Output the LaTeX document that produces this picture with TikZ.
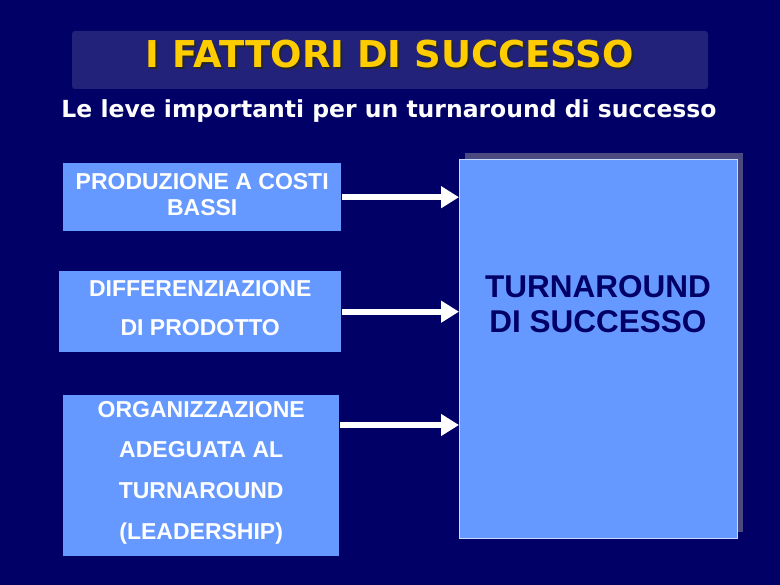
\documentclass[tikz,border=0pt]{standalone}
\usepackage{fontspec}
\setmainfont{Liberation Sans}
\newfontfamily\verdanafont{DejaVu Sans}
\usetikzlibrary{arrows.meta,calc}
\definecolor{bgnavy}{RGB}{0,0,102}
\definecolor{titlebox}{RGB}{34,34,122}
\definecolor{titleyellow}{RGB}{255,204,0}
\definecolor{boxblue}{RGB}{102,153,255}
\definecolor{shadowgray}{RGB}{74,74,128}
\definecolor{borderlight}{RGB}{200,220,255}
\tikzset{
  lever/.style={fill=boxblue, draw=none, inner sep=0pt},
  levertext/.style={text=white, align=center, inner sep=0pt},
  flow/.style={draw=white, line width=6pt,
    -{Triangle[width=21pt,length=18pt]}, shorten <=1pt}
}
\begin{document}
\begin{tikzpicture}[x=1pt,y=-1pt]
\fill[bgnavy] (0,0) rectangle (780,585);
\useasboundingbox (0,0) rectangle (780,585);
% title
\node[fill=titlebox, rounded corners=3pt, minimum width=636pt, minimum height=58pt, inner sep=0pt] (titlebg) at (390,60) {};
\node[text=black!85, font=\verdanafont\bfseries\fontsize{37}{42}\selectfont] (titleshadow) at (392,56) {I FATTORI DI SUCCESSO};
\node[text=titleyellow, font=\verdanafont\bfseries\fontsize{37}{42}\selectfont] (title) at (390,54) {I FATTORI DI SUCCESSO};
\node[text=white, font=\verdanafont\bfseries\fontsize{23.5}{26}\selectfont] (subtitle) at (389,111) {Le leve importanti per un turnaround di successo};
% big box with shadow
\fill[shadowgray] (465,153) rectangle (743,532);
\node[fill=boxblue, draw=borderlight, line width=0.8pt, minimum width=278pt, minimum height=379pt, inner sep=0pt, anchor=north west] (big) at (459,159) {};
\node[text=bgnavy, font=\bfseries\fontsize{31.5}{35}\selectfont, align=center] (bigtext) at (598,304) {TURNAROUND\\DI SUCCESSO};
% lever boxes
\node[lever, minimum width=278pt, minimum height=68pt, anchor=north west] (b1) at (63,163) {};
\node[levertext, font=\bfseries\fontsize{23}{26}\selectfont] (t1) at ($(b1)+(0,-3)$) {PRODUZIONE A COSTI\\BASSI};
\node[lever, minimum width=282pt, minimum height=81pt, anchor=north west] (b2) at (59,271) {};
\node[levertext, font=\bfseries\fontsize{23}{39}\selectfont] (t2) at ($(b2)+(0,-4)$) {DIFFERENZIAZIONE\\DI PRODOTTO};
\node[lever, minimum width=276pt, minimum height=161pt, anchor=north west] (b3) at (63,395) {};
\node[levertext, font=\bfseries\fontsize{23}{40.7}\selectfont] (t3) at ($(b3)+(0,-3)$) {ORGANIZZAZIONE\\ADEGUATA AL\\TURNAROUND\\(LEADERSHIP)};
% arrows
\coordinate (a3) at (0,425);
\draw[flow] (b1.east) -- (b1.east -| big.west);
\draw[flow] (b2.east) -- (b2.east -| big.west);
\draw[flow] (b3.east |- a3) -- (big.west |- a3);
\end{tikzpicture}
\end{document}
